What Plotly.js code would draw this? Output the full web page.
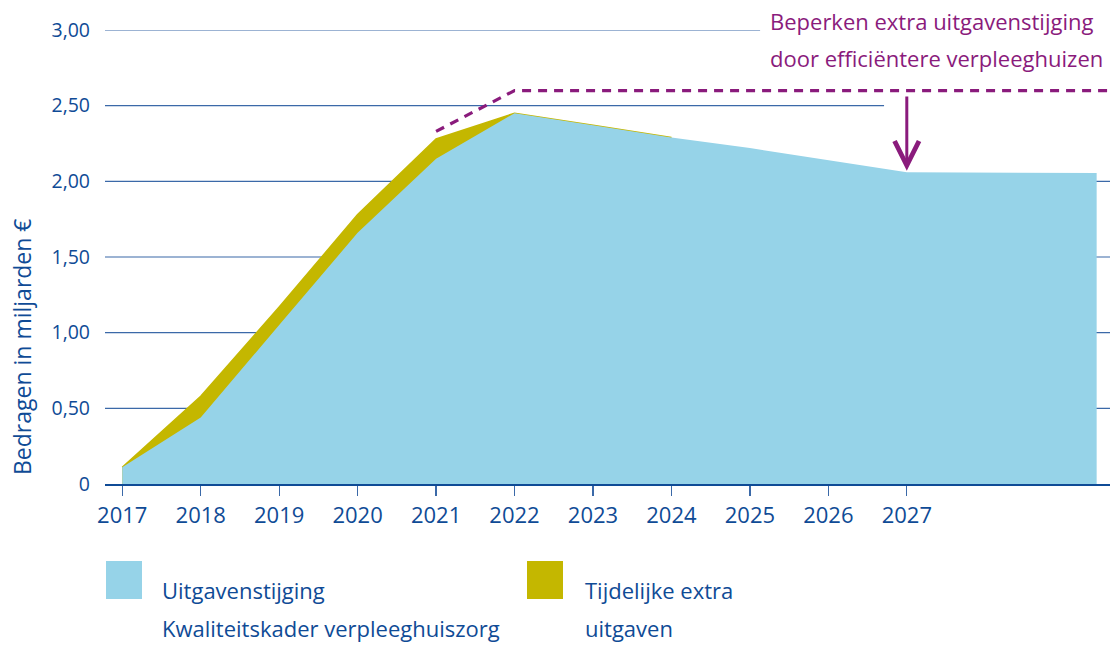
<!DOCTYPE html>
<html>
<head>
<meta charset="utf-8">
<script src="https://cdn.plot.ly/plotly-3.0.1.min.js"></script>
<style>
  html, body { margin: 0; padding: 0; background: #fff; }
  #chart { width: 1116px; height: 645px; }
</style>
</head>
<body>
<div id="chart"></div>
<script>
// ---- data ----
const years = [2017, 2018, 2019, 2020, 2021, 2022, 2023, 2024, 2025, 2026, 2027, 2029.42];
const kwaliteitskader = [0.11, 0.44, 1.05, 1.66, 2.15, 2.45, 2.37, 2.29, 2.22, 2.14, 2.06, 2.055];
const extraYears = [2017, 2018, 2019, 2020, 2021, 2022, 2023, 2024];
const metExtra = [0.11, 0.58, 1.17, 1.78, 2.28, 2.45, 2.37, 2.29];
const dashYears = [2021, 2022, 2029.59];
const dashValues = [2.33, 2.60, 2.60];
const tickYears = [2017, 2018, 2019, 2020, 2021, 2022, 2023, 2024, 2025, 2026, 2027];
const yTickVals = [0, 0.5, 1.0, 1.5, 2.0, 2.5, 3.0];
const yTickText = ['0', '0,50', '1,00', '1,50', '2,00', '2,50', '3,00'];
const arrowYear = 2027;
const arrowFrom = 2.57;
const arrowTo = 2.07;
const legendLines = [
  ['Uitgavenstijging', 'Kwaliteitskader verpleeghuiszorg'],
  ['Tijdelijke extra', 'uitgaven']
];
const noteLines = ['Beperken extra uitgavenstijging', 'door efficiëntere verpleeghuizen'];
const yTitle = 'Bedragen in miljarden €';

// ---- style ----
const BLUE = '#96d3e8';
const YELLOW = '#c4b700';
const PURPLE = '#8a1b7c';
const NAVY = '#0f4b96';
const GRID = '#3b69a8';
const FONT = 'Open Sans, Noto Sans, sans-serif';
const xMin = 2016.78, xMax = 2029.59;
const PL = 105, PT = 30, PW = 1005, PH = 454;
const px = v => (v - PL) / PW;
const py = v => (PT + PH - v) / PH;

const traces = [
  {
    x: extraYears, y: metExtra, type: 'scatter', mode: 'lines',
    fill: 'tozeroy', fillcolor: YELLOW, line: {color: YELLOW, width: 1.5},
    hoverinfo: 'skip', showlegend: false
  },
  {
    x: years, y: kwaliteitskader, type: 'scatter', mode: 'lines',
    fill: 'tozeroy', fillcolor: BLUE, line: {color: BLUE, width: 0},
    hoverinfo: 'skip', showlegend: false
  },
  {
    x: dashYears, y: dashValues, type: 'scatter', mode: 'lines',
    line: {color: PURPLE, width: 3.2, dash: '9px,7px'},
    hoverinfo: 'skip', showlegend: false
  }
];

// gridlines (3,00 and 2,50 stop short of the right edge)
const gridEnds = {0.5: xMax, 1.0: xMax, 1.5: xMax, 2.0: xMax, 2.5: 2026.71, 3.0: 2025.13};
const shapes = [];
yTickVals.slice(1).forEach(v => {
  shapes.push({type: 'line', xref: 'x', yref: 'y', x0: xMin, x1: gridEnds[v], y0: v, y1: v,
    line: {color: GRID, width: 1.2}, layer: 'below'});
});
// legend swatches
const swatchColors = [BLUE, YELLOW];
const swatchLeft = [106, 527];
swatchColors.forEach((c, i) => {
  shapes.push({type: 'rect', xref: 'paper', yref: 'paper',
    x0: px(swatchLeft[i]), x1: px(swatchLeft[i] + 36), y0: py(599), y1: py(561),
    fillcolor: c, line: {width: 0}});
});

const annotations = [
  {
    x: arrowYear, y: arrowTo, ax: arrowYear, ay: arrowFrom, xref: 'x', yref: 'y', axref: 'x', ayref: 'y',
    text: '', showarrow: true, arrowhead: 5, arrowsize: 1.6, arrowwidth: 3, arrowcolor: PURPLE
  },
  {
    xref: 'paper', yref: 'paper', x: px(22), y: py(347), xanchor: 'center', yanchor: 'middle',
    text: yTitle, textangle: -90, showarrow: false,
    font: {family: FONT, size: 23, color: NAVY}
  }
];
noteLines.forEach((t, i) => {
  annotations.push({
    xref: 'paper', yref: 'paper', x: px(768), y: py([21, 58][i]), xanchor: 'left', yanchor: 'middle',
    text: t, showarrow: false, align: 'left',
    font: {family: FONT, size: 22, color: PURPLE}
  });
});
const legendTextLeft = [160, 583];
legendLines.forEach((lines, i) => {
  lines.forEach((t, j) => {
    annotations.push({
      xref: 'paper', yref: 'paper', x: px(legendTextLeft[i]), y: py([590, 628][j]),
      xanchor: 'left', yanchor: 'middle',
      text: t, showarrow: false, align: 'left',
      font: {family: FONT, size: 22, color: NAVY}
    });
  });
});

const layout = {
  width: 1116, height: 645,
  margin: {l: PL, r: 1116 - PL - PW, t: PT, b: 645 - PT - PH},
  paper_bgcolor: '#fff', plot_bgcolor: '#fff',
  font: {family: FONT, color: NAVY},
  showlegend: false,
  xaxis: {
    range: [xMin, xMax], tickvals: tickYears, ticktext: tickYears.map(String),
    showgrid: false, zeroline: false, showline: true, linecolor: NAVY, linewidth: 2.2,
    ticks: 'outside', ticklen: 10, tickwidth: 1.3, tickcolor: GRID,
    tickfont: {family: FONT, size: 22, color: NAVY}
  },
  yaxis: {
    range: [0, 3.0], tickvals: yTickVals, ticktext: yTickText,
    showgrid: false, zeroline: false, showline: false, ticks: '',
    ticklabelstandoff: 14,
    tickfont: {family: FONT, size: 19.5, color: NAVY}
  },
  shapes: shapes,
  annotations: annotations
};

Plotly.newPlot('chart', traces, layout, {displayModeBar: false, staticPlot: true});
</script>
</body>
</html>
